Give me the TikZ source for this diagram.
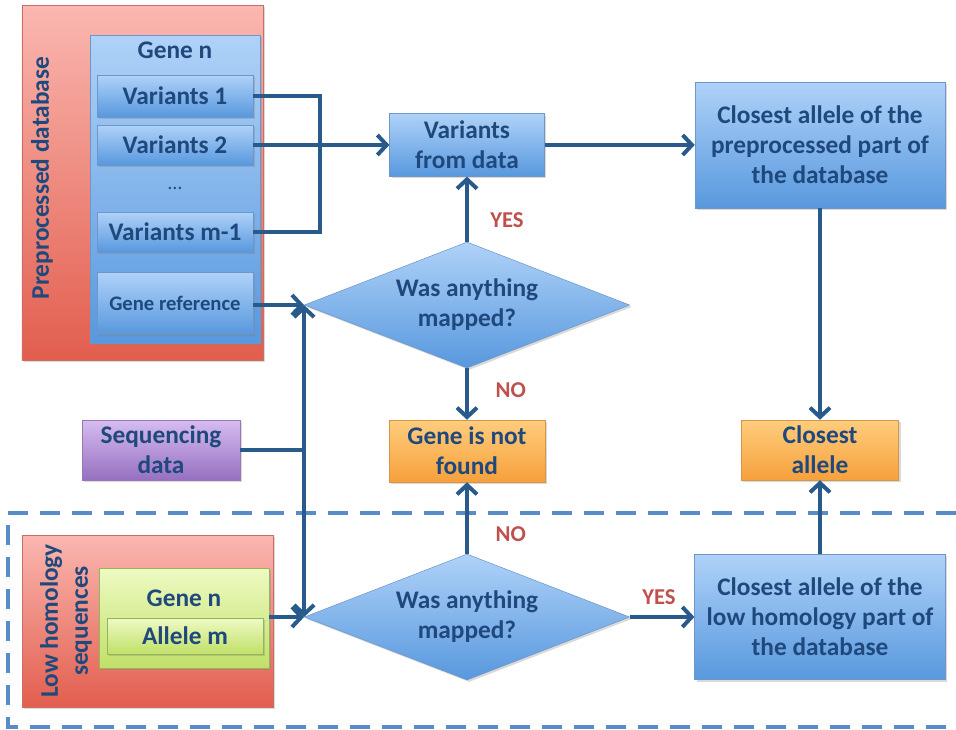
\documentclass[tikz,border=0pt]{standalone}
\usepackage{fontspec}
\setmainfont{Carlito}
\usepackage{xcolor}
\usepackage{tikz}
\usetikzlibrary{shapes.geometric, arrows.meta, shadows}

\definecolor{txtblue}{RGB}{31,73,125}
\definecolor{arrblue}{RGB}{40,90,140}
\definecolor{dashblue}{RGB}{88,140,200}
\definecolor{ansred}{RGB}{192,80,77}
\definecolor{blueedge}{RGB}{110,150,200}
\definecolor{bluetop}{RGB}{175,210,248}
\definecolor{bluebot}{RGB}{88,152,222}
\definecolor{rededge}{RGB}{200,110,100}
\definecolor{redtop}{RGB}{250,183,176}
\definecolor{redbot}{RGB}{226,94,78}
\definecolor{orangeedge}{RGB}{215,150,70}
\definecolor{orangetop}{RGB}{255,205,125}
\definecolor{orangebot}{RGB}{246,160,60}
\definecolor{purpleedge}{RGB}{150,120,180}
\definecolor{purpletop}{RGB}{214,188,240}
\definecolor{purplebot}{RGB}{150,112,192}
\definecolor{greenedge}{RGB}{150,180,90}
\definecolor{greentop}{RGB}{238,250,195}
\definecolor{greenbot}{RGB}{192,224,104}

\begin{document}
\begin{tikzpicture}[x=0.75pt, y=-0.75pt,
		every node/.style={font=\bfseries\fontsize{19}{22.5}\selectfont, text=txtblue, align=center, inner sep=0pt},
		box/.style={draw=#1edge, top color=#1top, bottom color=#1bot, line width=0.4pt, drop shadow={opacity=0.3, shadow xshift=1.5pt, shadow yshift=-1.5pt}},
		bluebox/.style={box=blue},
		redbox/.style={box=red},
		orangebox/.style={box=orange},
		purplebox/.style={box=purple},
		greenbox/.style={box=green},
		decision/.style={bluebox, diamond, aspect=2.58, minimum width=244pt, minimum height=94.5pt},
		line/.style={draw=arrblue, line width=3pt},
		arr/.style={line, -{Straight Barb[length=7pt, width=15pt, line width=3pt]}},
		answer/.style={text=ansred, font=\bfseries\fontsize{17}{20}\selectfont}]
		\useasboundingbox (0,0) rectangle (956,729);

		% preprocessed part
		\node[redbox, minimum width=181pt, minimum height=266pt] (predb) at (142.5,182.5) {};
		\node[rotate=90] (predblabel) at (42,178) {Preprocessed database};
		\node[bluebox, minimum width=127.5pt, minimum height=231pt] (gene) at (175,189) {};
		\node (genelabel) at (175,50) {Gene n};
		\node[bluebox, minimum width=117pt, minimum height=31.5pt] (var1) at (175,96) {Variants 1};
		\node[bluebox, minimum width=117pt, minimum height=30pt] (var2) at (175,145) {Variants 2};
		\node[font=\fontsize{15}{18}\selectfont] (dots) at (175,188) {\dots};
		\node[bluebox, minimum width=117pt, minimum height=30pt] (varm) at (175,232) {Variants m-1};
		\node[bluebox, minimum width=117pt, minimum height=46pt, font=\bfseries\fontsize{15.5}{18}\selectfont] (gref) at (175,303) {Gene reference};

		% main flow
		\node[bluebox, minimum width=116pt, minimum height=47pt] (vdata) at (467,145) {Variants\\from data};
		\node[bluebox, minimum width=187.5pt, minimum height=94.5pt] (clpre) at (820,145) {Closest allele of the\\preprocessed part of\\the database};
		\node[decision] (dia1) at (467,305) {Was anything\\mapped?};
		\node[orangebox, minimum width=117pt, minimum height=46.5pt] (nfound) at (467,451) {Gene is not\\found};
		\node[orangebox, minimum width=118pt, minimum height=45pt] (closest) at (820,450) {Closest\\allele};
		\node[purplebox, minimum width=118.5pt, minimum height=45pt] (seq) at (161,450) {Sequencing\\data};

		% low homology part
		\draw[dashblue, line width=3pt, dash pattern=on 15pt off 9pt] (956,513) -- (8,513) -- (8,727) -- (956,727);
		\node[redbox, minimum width=188pt, minimum height=129pt] (lowdb) at (147.5,621) {};
		\node[rotate=90] (lowlabel) at (66,621) {Low homology\\sequences};
		\node[greenbox, minimum width=127.5pt, minimum height=75pt] (lgene) at (184,618) {};
		\node (lgenelabel) at (184,598) {Gene n};
		\node[greenbox, minimum width=117pt, minimum height=27pt] (allele) at (185,636) {Allele m};
		\node[decision] (dia2) at (467,617) {Was anything\\mapped?};
		\node[bluebox, minimum width=188pt, minimum height=94pt] (cllow) at (820,617) {Closest allele of the\\low homology part of\\the database};

		% connectors
		\coordinate (brk) at (320,0);
		\draw[line] (var1.east) -- (var1.east -| brk) |- (varm.east);
		\draw[arr] (var2.east) -- (var2.east -| vdata.west);
		\draw[arr] (gref.east |- dia1.west) -- (dia1.west);
		\coordinate (join) at (dia1.west |- seq.east);
		\draw[line] (seq.east) -- (join);
		\draw[arr] (join) -- (dia1.west);
		\draw[arr] (join) -- (dia2.west);
		\draw[arr] (lgene.east |- dia2.west) -- (dia2.west);
		\draw[arr] (dia1.north) -- node[answer, anchor=west, pos=0.33, xshift=16pt] {YES} (vdata.south);
		\draw[arr] (dia1.south) -- node[answer, anchor=west, pos=0.42, xshift=20pt] {NO} (nfound.north);
		\draw[arr] (dia2.north) -- node[answer, anchor=west, pos=0.27, xshift=20pt] {NO} (nfound.south);
		\draw[arr] (dia2.east) -- node[answer, anchor=south, pos=0.45, yshift=8pt] {YES} (cllow.west);
		\draw[arr] (vdata.east) -- (clpre.west);
		\draw[arr] (clpre.south) -- (closest.north);
		\draw[arr] (cllow.north) -- (closest.south);
\end{tikzpicture}
\end{document}
